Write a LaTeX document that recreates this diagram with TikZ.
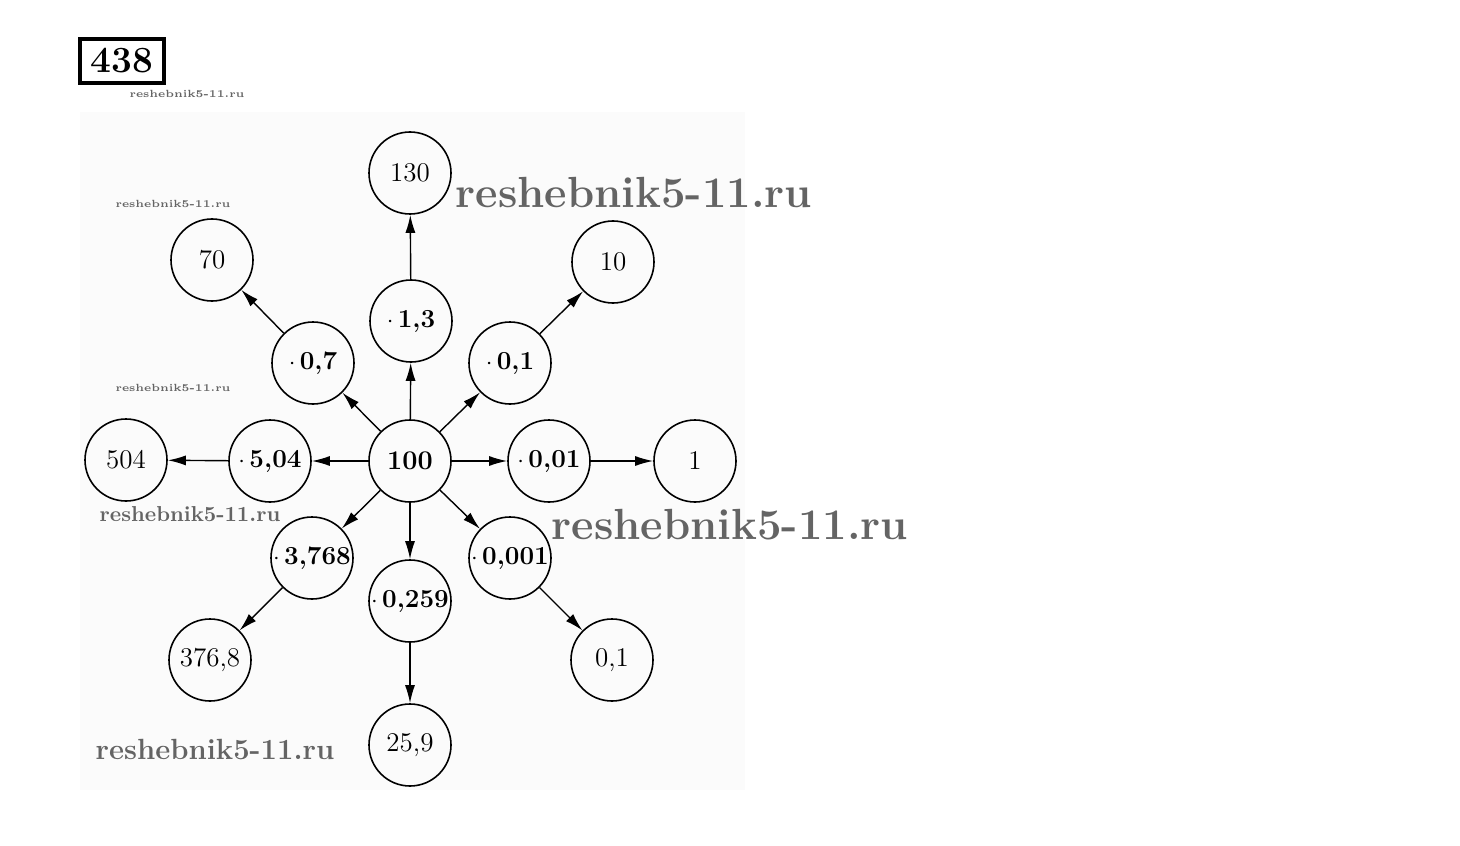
\documentclass[tikz,border=0pt]{standalone}
\usepackage{tikz}
\usetikzlibrary{arrows.meta}
\definecolor{wmGray}{RGB}{100,100,100}
\newcommand{\mul}[1]{$\cdot$\,\textbf{#1}}
\newcommand{\wm}{reshebnik5-11.ru}

\begin{document}
\begin{tikzpicture}[x=0.5pt,y=-0.5pt,
      num/.style={draw,circle,line width=0.8pt,minimum size=41pt,inner sep=0pt,
                  font=\fontsize{13.5}{15}\selectfont},
      op/.style={num,font=\fontsize{13}{15}\selectfont},
      arr/.style={-{Latex[length=9pt,width=5pt]},line width=0.7pt},
      mark/.style={text=wmGray,font=\bfseries\fontsize{#1}{#1}\selectfont,inner sep=0pt}]
    \useasboundingbox (0,0) rectangle (1460,845);
    \fill[black!1.5] (80,112) rectangle (745,790);
    \node[draw,line width=1.6pt,inner sep=2pt,font=\bfseries\fontsize{18.5}{19}\selectfont,
          minimum width=42pt,minimum height=22pt] (task) at (122,61) {438};
    % centre and first ring
    \node[num,font=\bfseries\fontsize{13.5}{15}\selectfont] (c) at (410,461) {100};
    \node[op] (m504) at (270,461) {\mul{5,04}};
    \node[op] (m001) at (549,461) {\mul{0,01}};
    \node[op] (m13) at (411,321) {\mul{1,3}};
    \node[op] (m07) at (313,363) {\mul{0,7}};
    \node[op] (m01) at (510,363) {\mul{0,1}};
    \node[op] (m3768) at (312,558) {\mul{3,768}};
    \node[op] (m0259) at (410,601) {\mul{0,259}};
    \node[op] (m0001) at (510,558) {\mul{0,001}};
    % results
    \node[num] (r504) at (126,460) {504};
    \node[num] (r1) at (695,461) {1};
    \node[num] (r130) at (410,173) {130};
    \node[num] (r70) at (212,260) {70};
    \node[num] (r10) at (613,262) {10};
    \node[num] (r3768) at (210,660) {376,8};
    \node[num] (r259) at (410,745) {25,9};
    \node[num] (r01) at (612,660) {0,1};
    % arrows
    \draw[arr] (c) -- (m504);
    \draw[arr] (c) -- (m001);
    \draw[arr] (c) -- (m13);
    \draw[arr] (c) -- (m07);
    \draw[arr] (c) -- (m01);
    \draw[arr] (c) -- (m3768);
    \draw[arr] (c) -- (m0259);
    \draw[arr] (c) -- (m0001);
    \draw[arr] (m504) -- (r504);
    \draw[arr] (m001) -- (r1);
    \draw[arr] (m13) -- (r130);
    \draw[arr] (m07) -- (r70);
    \draw[arr] (m01) -- (r10);
    \draw[arr] (m3768) -- (r3768);
    \draw[arr] (m0259) -- (r259);
    \draw[arr] (m0001) -- (r01);
    % site marks
    \node[mark=5.2] (wm1) at (187,94) {\wm};
    \node[mark=5.2] (wm2) at (173,204) {\wm};
    \node[mark=5.2] (wm3) at (173,388) {\wm};
    \node[mark=10.8] (wm4) at (190,514) {\wm};
    \node[mark=21.8] (wm5) at (634,193) {\wm};
    \node[mark=21.8] (wm6) at (730,525) {\wm};
    \node[mark=14.6] (wm7) at (215,750) {\wm};
  \end{tikzpicture}
\end{document}
